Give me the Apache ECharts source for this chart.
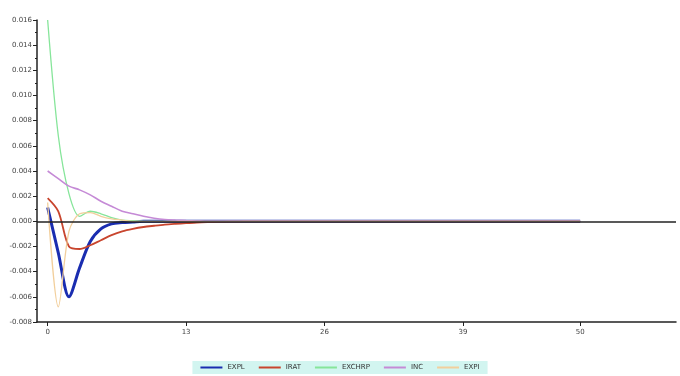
<!DOCTYPE html>
<html>
<head>
<meta charset="utf-8">
<script src="https://cdn.jsdelivr.net/npm/echarts@6/dist/echarts.min.js"></script>
<style>
  html, body { margin: 0; padding: 0; background: #fff; }
  #chart { width: 680px; height: 376px; }
</style>
</head>
<body>
<div id="chart"></div>
<script>
const periods = [0,1,2,3,4,5,6,7,8,9,10,11,12,13,14,15,16,17,18,19,20,21,22,23,24,25,26,27,28,29,30,31,32,33,34,35,36,37,38,39,40,41,42,43,44,45,46,47,48,49,50];
const xTicks = [0, 13, 26, 39, 50];
const seriesNames = ['EXPL', 'IRAT', 'EXCHRP', 'INC', 'EXPI'];

const expl = [0.0011,-0.0025,-0.006,-0.0037,-0.0016,-0.0006,-0.0002,-0.0001,-0.00005,0,0,0,0,0,0,0,0,0,0,0,0,0,0,0,0,0,0,0,0,0,0,0,0,0,0,0,0,0,0,0,0,0,0,0,0,0,0,0,0,0,0];
const irat = [0.00185,0.0008,-0.002,-0.0022,-0.0019,-0.0015,-0.0011,-0.0008,-0.0006,-0.00045,-0.00035,-0.00026,-0.0002,-0.00015,-0.0001,-0.00007,-0.00005,-0.00003,-0.00002,0,0,0,0,0,0,0,0,0,0,0,0,0,0,0,0,0,0,0,0,0,0,0,0,0,0,0,0,0,0,0,0];
const exchrp = [0.016,0.0068,0.0022,0.0004,0.0008,0.0006,0.0003,0.0001,0.00005,0,0,0,0,0,0,0,0,0,0,0,0,0,0,0,0,0,0,0,0,0,0,0,0,0,0,0,0,0,0,0,0,0,0,0,0,0,0,0,0,0,0];
const inc = [0.004,0.0034,0.0028,0.0025,0.0021,0.0016,0.0012,0.0008,0.0006,0.0004,0.00025,0.00015,0.0001,0.00006,0.00003,0,0,0,0,0,0,0,0,0,0,0,0,0,0,0,0,0,0,0,0,0,0,0,0,0,0,0,0,0,0,0,0,0,0,0,0];
const expi = [0.0015,-0.0068,-0.0008,0.0006,0.0007,0.0004,0.0002,0.0001,0,0,0,0,0,0,0,0,0,0,0,0,0,0,0,0,0,0,0,0,0,0,0,0,0,0,0,0,0,0,0,0,0,0,0,0,0,0,0,0,0,0,0];

const values = [expl, irat, exchrp, inc, expi];
const colors = ['#1a2db0', '#c8452e', '#86e59a', '#c58ad6', '#f2cf9c'];
const widths = [3, 1.8, 1.3, 1.6, 1.3];

const chart = echarts.init(document.getElementById('chart'));

const series = seriesNames.map((name, i) => ({
  name: name,
  type: 'line',
  data: periods.map((p, j) => [p, values[i][j]]),
  showSymbol: false,
  smooth: 0.3,
  z: 3,
  lineStyle: { color: colors[i], width: widths[i] },
  itemStyle: { color: colors[i] }
}));

// black zero line drawn above the curves
series[4].z = 4;
series[4].markLine = {
  silent: true,
  symbol: 'none',
  label: { show: false },
  lineStyle: { color: '#222', width: 1.5, type: 'solid' },
  data: [{ yAxis: 0 }]
};

chart.setOption({
  animation: false,
  grid: { left: 37, right: 4, top: 20, bottom: 54 },
  legend: {
    bottom: 2,
    left: 'center',
    icon: 'rect',
    itemWidth: 22,
    itemHeight: 2,
    itemGap: 14,
    backgroundColor: '#d2f5f0',
    padding: [3, 8],
    textStyle: { fontSize: 7, color: '#333', fontFamily: 'DejaVu Sans' }
  },
  xAxis: {
    type: 'value',
    min: -1,
    max: 59,
    splitLine: { show: false },
    axisLine: { onZero: false, lineStyle: { color: '#222', width: 1.5 } },
    axisTick: { customValues: xTicks, length: 4, lineStyle: { color: '#222' } },
    axisLabel: { customValues: xTicks, fontSize: 7, color: '#444', margin: 7, fontFamily: 'DejaVu Sans' }
  },
  yAxis: {
    type: 'value',
    min: -0.008,
    max: 0.016,
    interval: 0.002,
    splitLine: { show: false },
    axisLine: { show: true, onZero: false, lineStyle: { color: '#222', width: 1.5 } },
    axisTick: { show: true, length: 4, lineStyle: { color: '#222' } },
    minorTick: { show: true, splitNumber: 2, length: 2, lineStyle: { color: '#222' } },
    axisLabel: {
      fontSize: 7,
      color: '#444',
      margin: 5,
      fontFamily: 'DejaVu Sans',
      formatter: v => v.toFixed(3)
    }
  },
  series: series
});
</script>
</body>
</html>
